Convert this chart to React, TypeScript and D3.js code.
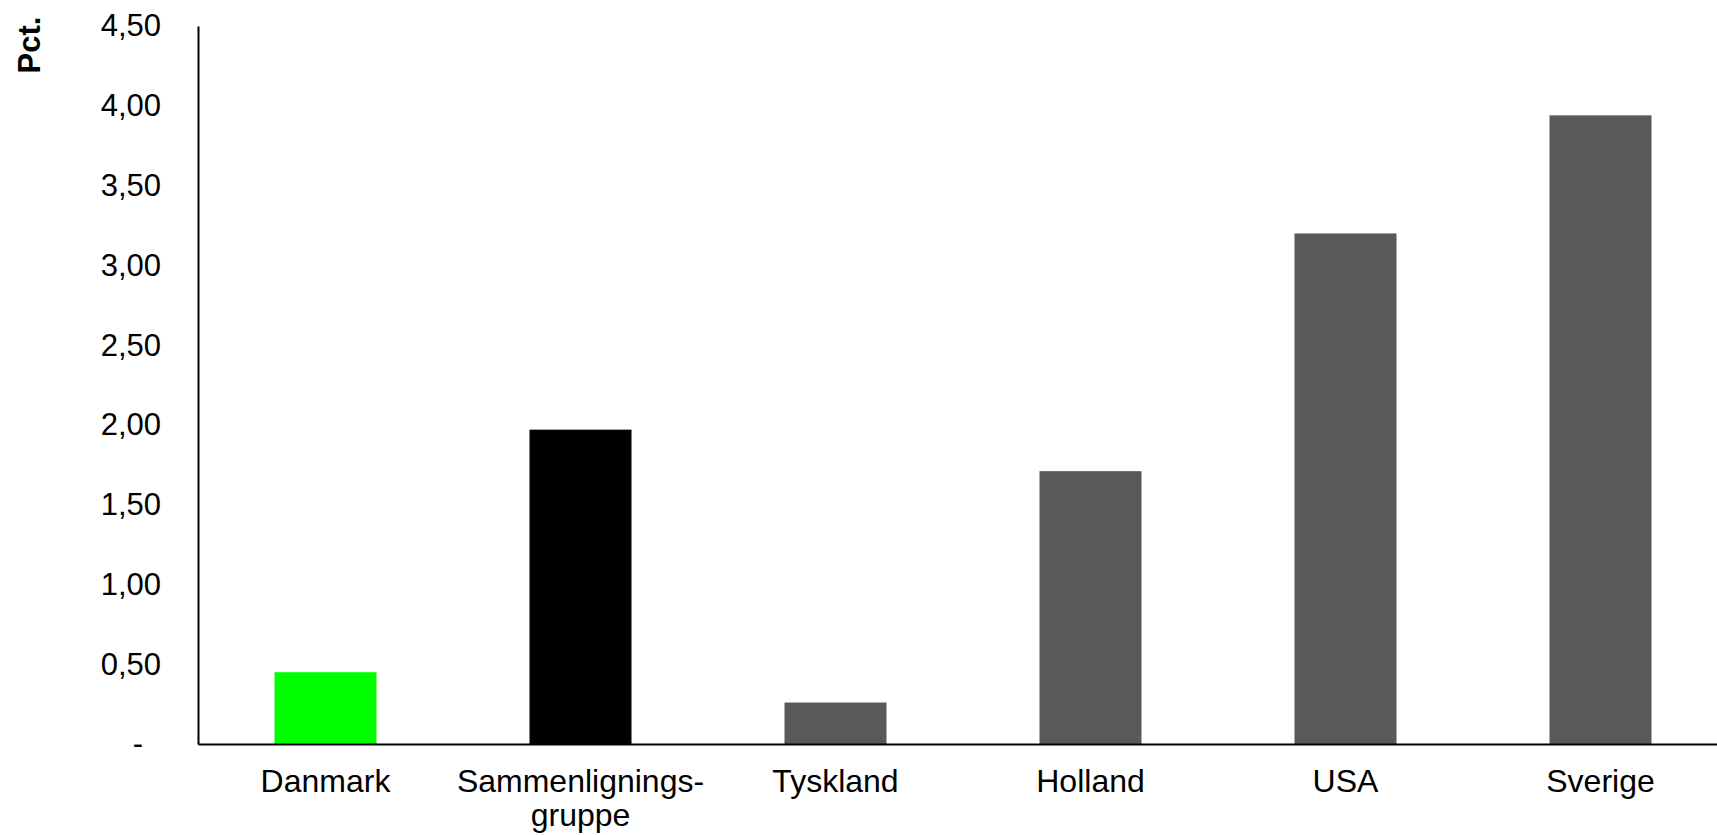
import { axisBottom, axisLeft, formatLocale, scaleBand, scaleLinear, scaleOrdinal, select } from "d3";
import { useEffect, useRef } from "react";

const categories = ["Danmark", "Sammenlignings-\ngruppe", "Tyskland", "Holland", "USA", "Sverige"];
const values = [0.45, 1.97, 0.26, 1.71, 3.2, 3.94];
const barColors = ["#00ff00", "#000000", "#595959", "#595959", "#595959", "#595959"];
const yTicks = [0, 0.5, 1, 1.5, 2, 2.5, 3, 3.5, 4, 4.5];
const yLabel = "Pct.";

const WIDTH = 1717;
const HEIGHT = 835;
const FONT = "'Liberation Sans', Arial, sans-serif";

const locale = formatLocale({ decimal: ",", thousands: ".", grouping: [3], currency: ["", ""] });
const fmt = locale.format(".2f");
const tickFormat = (d: number) => (d === 0 ? "-" : fmt(d));

export default function App() {
  const margin = { top: 26, left: 198, bottom: 91 };
  const baseY = HEIGHT - margin.bottom;

  const x = scaleBand<string>()
    .domain(categories)
    .range([margin.left, 1728])
    .paddingInner(0.6)
    .paddingOuter(0.3);
  const y = scaleLinear().domain([0, 4.5]).range([baseY, margin.top]);
  const color = scaleOrdinal<string, string>().domain(categories).range(barColors);

  const yRef = useRef<SVGGElement>(null);
  const xRef = useRef<SVGGElement>(null);

  useEffect(() => {
    if (yRef.current) {
      const g = select(yRef.current);
      g.call(axisLeft(y).tickValues(yTicks).tickSize(0).tickSizeOuter(0).tickPadding(37).tickFormat(tickFormat as any));
      g.select(".domain").attr("stroke", "#000").attr("stroke-width", 2);
      g.selectAll("text")
        .attr("font-size", 31)
        .attr("font-family", FONT)
        .attr("fill", "#000")
        .attr("dx", (d: any) => (d === 0 ? -18 : 0));
    }
    if (xRef.current) {
      const g = select(xRef.current);
      g.call(axisBottom(x).tickSize(0).tickSizeOuter(0).tickPadding(25));
      g.select(".domain").attr("stroke", "#000").attr("stroke-width", 2);
      g.selectAll<SVGTextElement, string>("text").each(function (d) {
        const t = select(this);
        t.text(null).attr("font-size", 32).attr("font-family", FONT).attr("fill", "#000");
        d.split("\n").forEach((line, i) => {
          t.append("tspan")
            .attr("x", 0)
            .attr("dy", i === 0 ? "0.71em" : "34px")
            .text(line);
        });
      });
    }
  }, []);

  return (
    <svg
      width={WIDTH}
      height={HEIGHT}
      style={{ position: "absolute", left: 0, top: 0, background: "#fff" }}
    >
      {categories.map((c, i) => (
        <rect
          key={c}
          x={x(c)}
          y={y(values[i])}
          width={x.bandwidth()}
          height={baseY - y(values[i])}
          fill={color(c)}
        />
      ))}
      <g ref={yRef} transform={`translate(${margin.left},0)`} />
      <g ref={xRef} transform={`translate(0,${baseY})`} />
      <text
        transform="translate(40,45) rotate(-90)"
        textAnchor="middle"
        fontFamily={FONT}
        fontWeight="bold"
        fontSize={31}
        fill="#000"
      >
        {yLabel}
      </text>
    </svg>
  );
}
